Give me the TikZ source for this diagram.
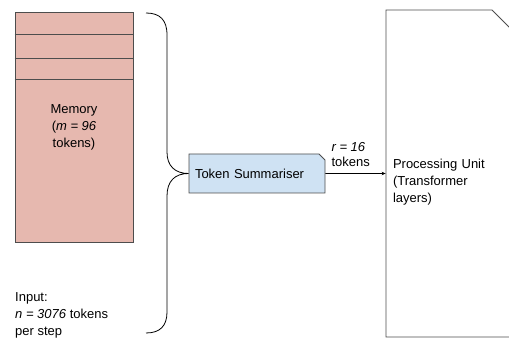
\documentclass[tikz,border=0pt]{standalone}
\usepackage{fontspec}
\setmainfont{Liberation Sans}
\usetikzlibrary{shapes.misc,arrows.meta,positioning}
\definecolor{memfill}{HTML}{E6B8AF}
\definecolor{sumfill}{HTML}{CFE2F3}
\definecolor{edgegray}{HTML}{4D4D4D}

\begin{document}
\begin{tikzpicture}[x=1pt,y=1pt,
    box/.style={draw=edgegray, line width=0.8pt},
    snipped/.style={chamfered rectangle, chamfered rectangle corners=north east},
    lbl/.style={font=\fontsize{13}{17}\selectfont, align=left}]
    \useasboundingbox (0,0) rectangle (509,339);
    \clip (0,0) rectangle (509,339);

    % Memory
    \node[box, fill=memfill, minimum width=118pt, minimum height=230pt, lbl, align=center] (mem) at (74,212) {Memory\\(\textit{m = 96}\\tokens)};
    \foreach \y in {305,281,260}
        \draw[edgegray, line width=0.8pt] (mem.west |- 0,\y) -- (mem.east |- 0,\y);

    % Token Summariser
    \node[box, snipped, fill=sumfill, inner xsep=3pt, chamfered rectangle xsep=3pt, chamfered rectangle ysep=3pt, minimum height=39pt, text width=124pt, lbl] (sum) at (257,165.5) {Token Summariser};

    % Processing Unit
    \node[box, snipped, inner xsep=-3pt, chamfered rectangle xsep=10pt, chamfered rectangle ysep=10pt, minimum height=327pt, text width=112pt, text height=27pt, lbl] (proc) at (449,165.5) {Processing Unit\\(Transformer\\layers)};

    % Input
    \node[lbl, inner sep=0pt, anchor=south west] (input) at (15,1) {Input:\\\textit{n = 3076} tokens\\per step};

    % Brace
    \draw[line width=0.8pt] (146,326) .. controls (160,326) and (167,319) .. (167,304) -- (167,187)
        .. controls (167,173) and (175,165.5) .. (sum.west)
        .. controls (175,165.5) and (167,158) .. (167,143) -- (167,27)
        .. controls (167,13) and (160,6) .. (146,6);

    % Arrow
    \draw[-{Stealth[length=4pt,width=3.5pt]}, line width=0.7pt] (sum) -- (proc);
    \node[lbl, inner sep=0pt, font=\fontsize{13}{15}\selectfont, above right=7pt and 6pt of sum.east] (rlab) {\textit{r = 16}\\tokens};
\end{tikzpicture}
\end{document}
